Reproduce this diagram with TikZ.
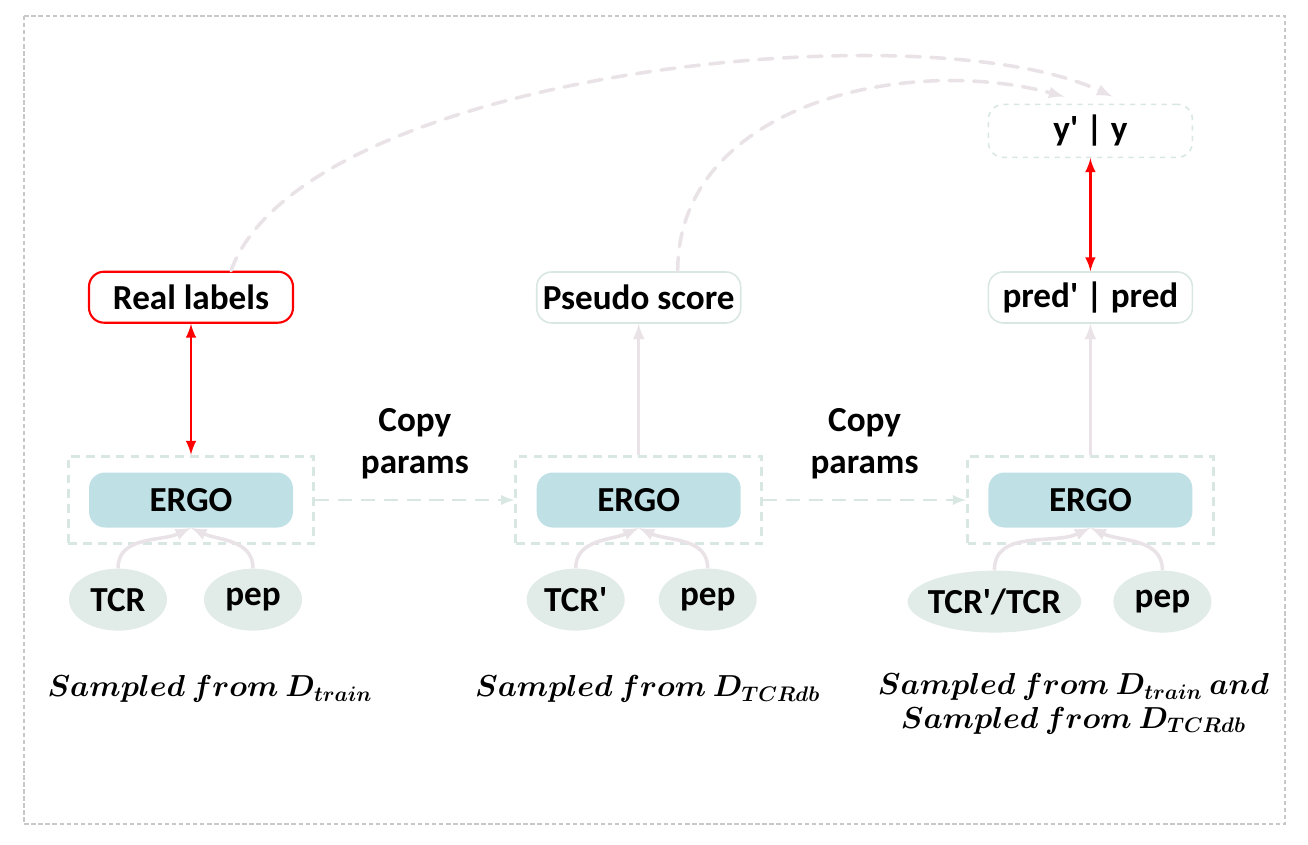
\documentclass[tikz,border=0pt]{standalone}
\usepackage{fontspec}
\setmainfont{Carlito}
\usepackage{amsmath,bm}
\usetikzlibrary{positioning,fit,shapes.geometric}
\definecolor{ergofill}{HTML}{BFE0E5}
\definecolor{inpfill}{HTML}{E1EBE7}
\definecolor{framecol}{HTML}{D9E7E3}
\definecolor{linkcol}{HTML}{E9E2E6}
\definecolor{bordercol}{HTML}{C8C8C8}
\newcommand{\pr}{\textquotesingle}
\tikzset{
  erg/.style={rounded corners=0.32cm, fill=ergofill, minimum width=4.08cm, minimum height=1.1cm, font=\fontsize{20}{24}\selectfont\bfseries},
  inp/.style={ellipse, fill=inpfill, minimum width=1.96cm, minimum height=1.24cm, inner xsep=0pt, font=\fontsize{20}{24}\selectfont\bfseries},
  frame/.style={draw=framecol, line width=1.6pt, dash pattern=on 5pt off 3.5pt, inner xsep=0.41cm, inner ysep=0.32cm},
  lbl/.style={draw=framecol, line width=0.9pt, rounded corners=0.3cm, minimum width=4.08cm, minimum height=1.02cm, font=\fontsize{20}{24}\selectfont\bfseries},
  txt/.style={align=center, font=\fontsize{20}{24}\selectfont\bfseries},
  note/.style={align=center, font=\fontsize{17}{19}\selectfont},
  link/.style={draw=linkcol, line width=2pt, -latex},
  copyarr/.style={draw=framecol, line width=1.6pt, dash pattern=on 8pt off 5pt, -latex},
  match/.style={draw=red, line width=1.7pt, latex-latex},
  back/.style={draw=linkcol, line width=2pt, dash pattern=on 8pt off 6pt, line cap=round, -latex}
}
\begin{document}
\begin{tikzpicture}
\useasboundingbox (0,0) rectangle (26.16,-16.88);
\draw[bordercol, line width=0.6pt, dash pattern=on 2.5pt off 1.5pt] (0.48,-0.32) rectangle (25.7,-16.48);
\node (ergo1) [erg] at (3.82,-10.0) {ERGO};
\node (ergo2) [erg, right=4.86cm of ergo1] {ERGO};
\node (ergo3) [erg, right=4.94cm of ergo2] {ERGO};
\node (box1) [frame, fit=(ergo1)] {};
\node (box2) [frame, fit=(ergo2)] {};
\node (box3) [frame, fit=(ergo3)] {};
\node (tcr1) [inp, below=0.46cm of box1, xshift=-1.46cm] {TCR};
\node (pep1) [inp, below=0.46cm of box1, xshift=1.24cm] {pep};
\node (tcr2) [inp, below=0.46cm of box2, xshift=-1.26cm] {TCR\pr};
\node (pep2) [inp, below=0.46cm of box2, xshift=1.38cm] {pep};
\node (tcr3) [inp, below=0.5cm of box3, xshift=-1.92cm, inner xsep=-3pt] {TCR\pr/TCR};
\node (pep3) [inp, below=0.5cm of box3, xshift=1.44cm] {pep};
\node (real) [lbl, draw=red, line width=1.2pt, above=2.62cm of box1] {Real labels};
\node (pseudo) [lbl, above=2.62cm of box2] {Pseudo score};
\node (pred) [lbl, above=2.62cm of box3] {pred\pr{} | pred};
\node (yy) [lbl, dashed, above=2.26cm of pred, minimum height=1.06cm] {y\pr{} | y};
\path (box1) -- node (copy1) [txt, yshift=1.12cm] {Copy\\params} (box2);
\path (box2) -- node (copy2) [txt, yshift=1.12cm] {Copy\\params} (box3);
\node (src1) [note] at ([shift={(0.38,-3.78)}]box1.center) {$\bm{Sampled\ from\ D_{train}}$};
\node (src2) [note] at ([shift={(0.18,-3.78)}]box2.center) {$\bm{Sampled\ from\ D_{TCRdb}}$};
\node (src3) [note] at ([shift={(-0.34,-4.08)}]box3.center) {$\bm{Sampled\ from\ D_{train}\ and}$\\$\bm{Sampled\ from\ D_{TCRdb}}$};
\draw [link] (tcr1.north) to[out=90, in=-155] (ergo1.south);
\draw [link] (pep1.north) to[out=90, in=-25] (ergo1.south);
\draw [link] (tcr2.north) to[out=90, in=-155] (ergo2.south);
\draw [link] (pep2.north) to[out=90, in=-25] (ergo2.south);
\draw [link] (tcr3.north) to[out=90, in=-155] (ergo3.south);
\draw [link] (pep3.north) to[out=90, in=-25] (ergo3.south);
\draw [copyarr] (box1.east) -- (box2.west);
\draw [copyarr] (box2.east) -- (box3.west);
\draw [link] (box2.north) -- (pseudo.south);
\draw [link] (box3.north) -- (pred.south);
\draw [match] (real.south) -- (box1.north);
\draw [match] (yy.south) -- (pred.north);
\draw [back] ([xshift=0.8cm]real.north) to[out=70, in=155, looseness=0.6] ([xshift=0.44cm, yshift=0.14cm]yy.north);
\draw [back] ([xshift=0.78cm]pseudo.north) to[out=90, in=165] ([xshift=-0.52cm, yshift=0.14cm]yy.north);
\end{tikzpicture}
\end{document}
